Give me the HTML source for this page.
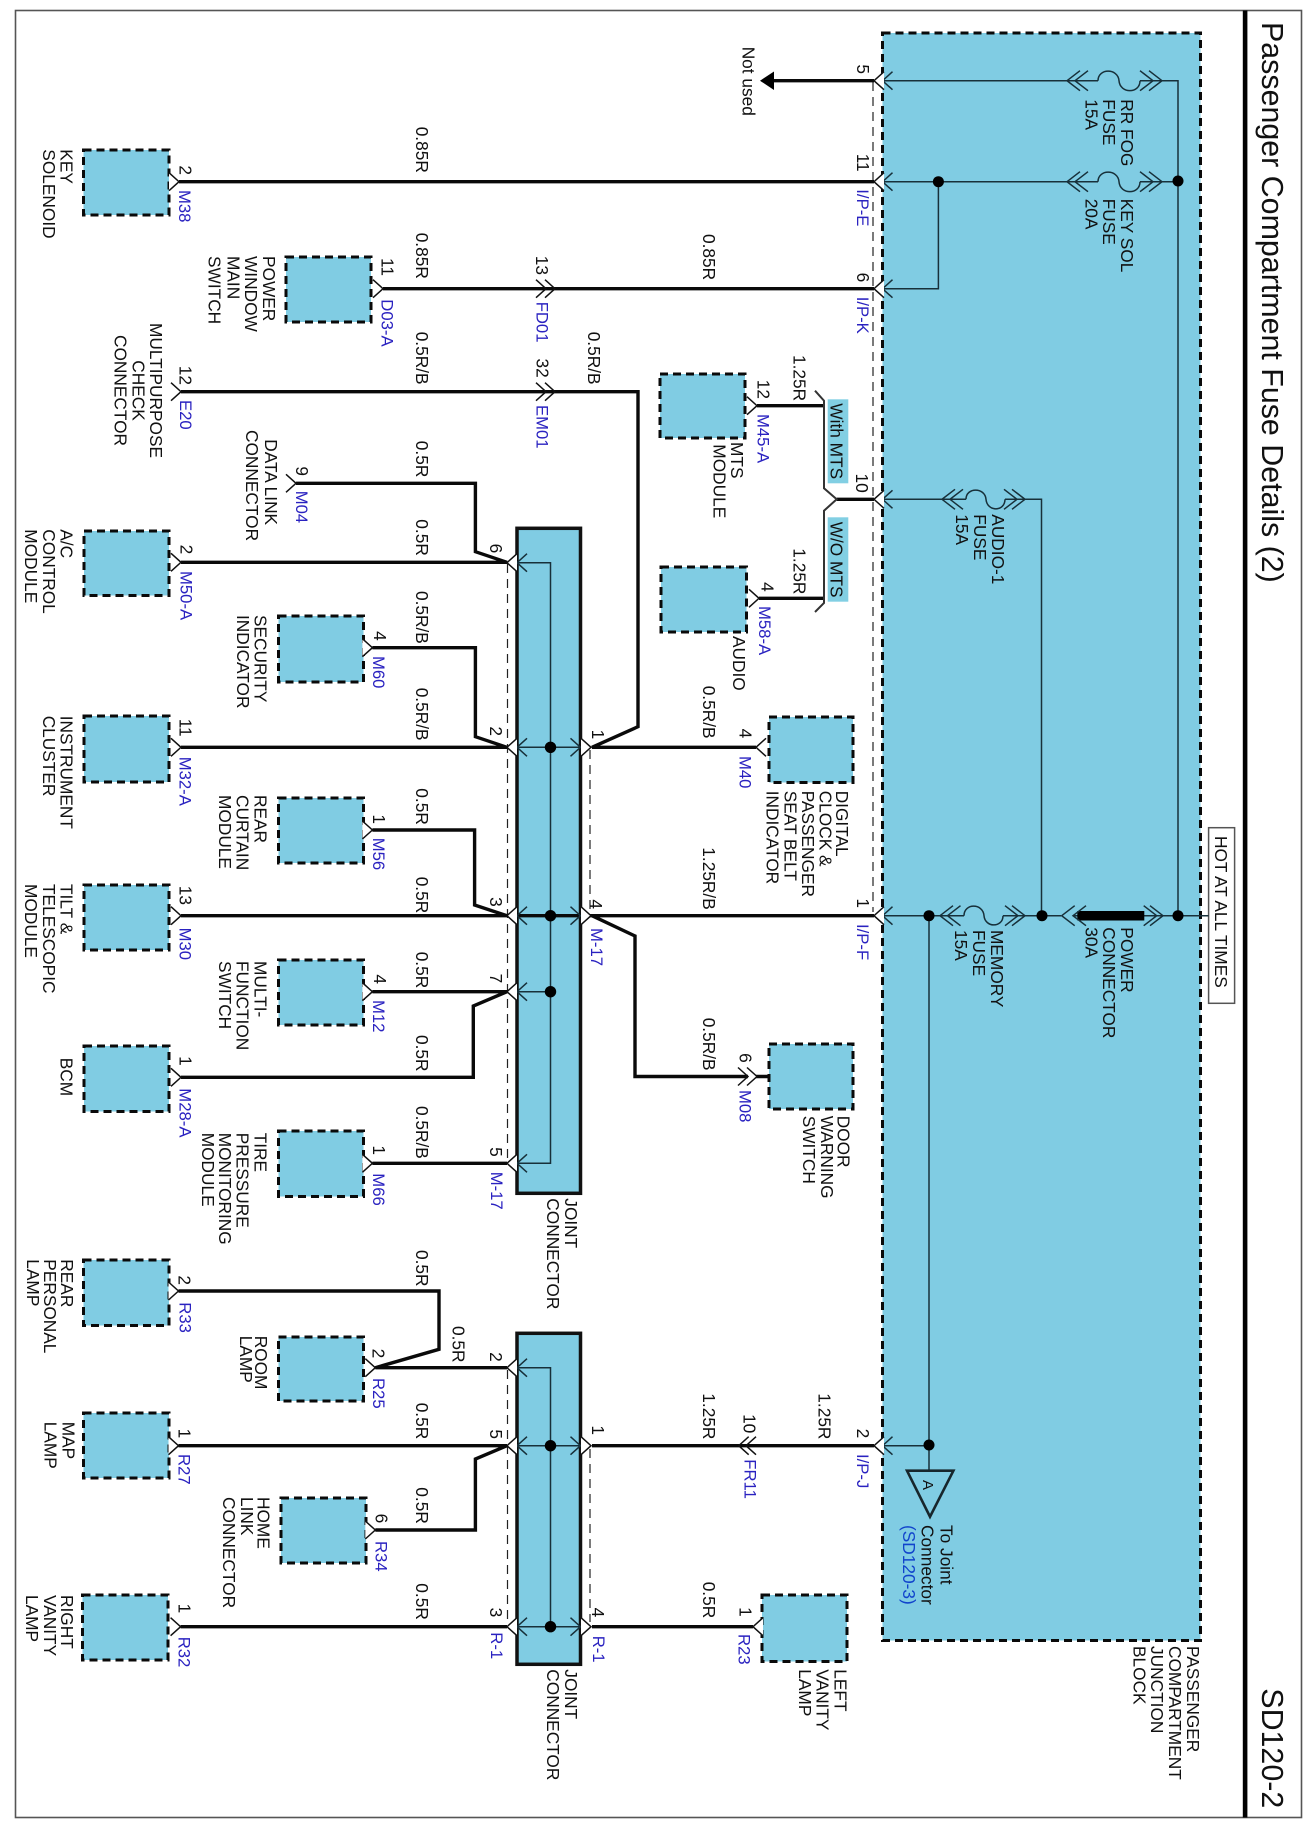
<!DOCTYPE html>
<html><head><meta charset="utf-8"><title>Passenger Compartment Fuse Details (2)</title>
<style>
html,body{margin:0;padding:0;background:#fff}
svg{display:block}
text{font-family:"Liberation Sans",Arial,sans-serif;font-size:17.3px;fill:#111}
.b{font-size:16.7px;fill:#2a22c0}
.n{text-anchor:end}
.m{text-anchor:middle}
.t{font-size:30.4px}
.w{fill:none;stroke:#0a0a0a;stroke-width:3.4;stroke-linejoin:miter}
.s{fill:none;stroke:#17303a;stroke-width:1.5}
.d{fill:none;stroke:#222;stroke-width:1.2;stroke-dasharray:9 6}
.box{fill:#80cce3;stroke:#0a0a0a;stroke-width:3;stroke-dasharray:8 5}
.c{fill:none;stroke:#111;stroke-width:1.5}
.f{fill:#fff;stroke:#111;stroke-width:1.5}
.k{fill:none;stroke:#17303a;stroke-width:1.5}
</style></head><body>
<svg xmlns="http://www.w3.org/2000/svg" width="1308" height="1834" viewBox="0 0 1308 1834">
<defs>
<path id="L" d="M10-9L0 0L10 9"/>
<path id="R" d="M-10-9L0 0L-10 9"/>
<path id="L2" d="M13-10L0 0L13 10"/>
<path id="R2" d="M-13-10L0 0L-13 10"/>
</defs>
<rect width="1308" height="1834" fill="#fff"/>
<rect x="15.5" y="10.5" width="1286" height="1807" fill="none" stroke="#555" stroke-width="1.6"/>
<rect x="1242.8" y="10.5" width="4.6" height="1807" fill="#000"/>

<!-- main block -->
<rect class="box" x="882.5" y="33" width="318" height="1607.5"/>
<rect x="1208.6" y="827.7" width="26" height="175.6" fill="#fff" stroke="#555" stroke-width="1.5"/>

<!-- boxes -->
<rect class="box" x="83.5" y="150" width="85.5" height="65"/>
<rect class="box" x="286" y="257" width="85" height="65"/>
<rect class="box" x="84" y="531" width="85" height="64.5"/>
<rect class="box" x="278.5" y="616" width="85" height="66"/>
<rect class="box" x="84" y="716" width="85" height="66"/>
<rect class="box" x="278.5" y="798" width="85" height="65"/>
<rect class="box" x="84" y="885" width="85" height="65"/>
<rect class="box" x="278.5" y="960" width="85" height="65"/>
<rect class="box" x="84" y="1046" width="85" height="65.5"/>
<rect class="box" x="278.5" y="1131" width="85" height="65.5"/>
<rect class="box" x="83.5" y="1260" width="85.5" height="65.5"/>
<rect class="box" x="278.5" y="1337" width="85" height="64"/>
<rect class="box" x="83.5" y="1413" width="85.5" height="65"/>
<rect class="box" x="281" y="1498" width="85" height="65"/>
<rect class="box" x="82.5" y="1595" width="85.5" height="65"/>
<rect class="box" x="660" y="374" width="85" height="64"/>
<rect class="box" x="661" y="567" width="85.5" height="65"/>
<rect class="box" x="769" y="717" width="84" height="65.5"/>
<rect class="box" x="769" y="1044" width="84" height="65"/>
<rect class="box" x="762" y="1595" width="85" height="66.5"/>

<!-- joint connectors -->
<rect x="517" y="528.3" width="63.5" height="665" fill="#80cce3" stroke="#111" stroke-width="3.5"/>
<rect x="517" y="1333.3" width="63.5" height="331" fill="#80cce3" stroke="#111" stroke-width="3.5"/>

<!-- thin internal lines -->
<path class="s" d="M882 80.7H1098M1140 80.7H1178V915.7M882 181.7H1098M1140 181.7H1178M938.4 181.7V288.7H882M882 499.3H966M1005 499.3H1041.5V915.7M882 915.7H964M1003 915.7H1061M1074 915.7H1080M1144 915.7H1208.6M929 915.7V1470.7M882 1445.7H929"/>
<path class="s" d="M1098 80.7C1098 68 1118 68 1119 80.7C1120 94 1140 94 1140 80.7M1098 181.7C1098 169 1118 169 1119 181.7C1120 195 1140 195 1140 181.7M966 499.3C966 487 985 487 986 499.3C987 512 1005 512 1005 499.3M964 915.7C964 903 983 903 984 915.7C985 928 1003 928 1003 915.7"/>
<path class="s" d="M517 562.7H550.5V1163.3H517M517 747.3H580.5M517 915.7H580.5M517 991.7H550.5M517 1367.7H550.5V1626.7M517 1445.7H580.5M517 1626.7H580.5"/>

<!-- dashed -->
<path class="d" d="M873 82V912M507.5 564V1160M590 750V912M507.5 1370V1622M590 1449V1622"/>

<!-- wires -->
<path class="w" d="M179 181.7H874M383 288.7H874M181 391.7H638V726.7L592 747.3H756M296 483.3H475.4V551.7L507 562.3M181 562.3H507M372.4 647.7H475.4V736.7L507 747.3M181 747.3H507M372.4 830H474.6V905L507 915.7M181 915.7H874M592 915.7L635 936V1076.5H748M756 1076.5H769M372.4 991.7H507M181 1077.3H473.3V1006L507 991.7M372.4 1163.3H507M178.5 1291H439V1349.3L375.3 1367.7M375.3 1367.7H507M178.5 1445.7H507M375.3 1530H475.4V1459L507 1445.7M180.6 1626.7H507M592 1445.7H874M592 1626.7H753M773 80.7H874M757 405.7H824M759 598.3H824M836.7 499.3H874"/>
<path fill="none" stroke="#333" stroke-width="2" d="M815 390.7L824 400.7V488.3L836.7 499.3L824 510.7V603L815 612"/>
<path d="M760 80.7L774 71.5V90z" fill="#000"/>
<rect x="1077.3" y="911" width="67" height="9.5" fill="#000"/>

<!-- With / WO labels -->
<rect x="827.7" y="399.3" width="20.6" height="84" fill="#82cfe3"/>
<rect x="827.7" y="517.3" width="20.6" height="84.4" fill="#82cfe3"/>

<!-- dots -->
<g fill="#000">
<circle cx="1178" cy="181" r="5.5"/><circle cx="938.4" cy="181.7" r="5.5"/><circle cx="1178" cy="915.7" r="5.5"/><circle cx="1042" cy="915.7" r="5.5"/><circle cx="929" cy="915.7" r="5.5"/><circle cx="929" cy="1445" r="5.5"/>
<circle cx="550.5" cy="747.3" r="5.7"/><circle cx="550.5" cy="915.7" r="5.7"/><circle cx="550.5" cy="991.7" r="5.7"/><circle cx="550.5" cy="1445.7" r="5.7"/><circle cx="550.5" cy="1626.7" r="5.7"/>
</g>

<!-- chevrons -->
<g class="k">
<use href="#L2" x="1067" y="80.7"/><use href="#L2" x="1075" y="80.7"/><use href="#R2" x="1153" y="80.7"/><use href="#R2" x="1162" y="80.7"/>
<use href="#L2" x="1067" y="181.7"/><use href="#L2" x="1075" y="181.7"/><use href="#R2" x="1153" y="181.7"/><use href="#R2" x="1162" y="181.7"/>
<use href="#L2" x="942" y="499.3"/><use href="#L2" x="950" y="499.3"/><use href="#R2" x="1017" y="499.3"/><use href="#R2" x="1025" y="499.3"/>
<use href="#L2" x="940" y="915.7"/><use href="#L2" x="947.5" y="915.7"/><use href="#R2" x="1018" y="915.7"/><use href="#R2" x="1025" y="915.7"/>
<use href="#L2" x="1061.7" y="915.7"/><use href="#L2" x="1073" y="915.7"/><use href="#R2" x="1156.7" y="915.7"/><use href="#R2" x="1163" y="915.7"/>
<use href="#L" x="882.5" y="80.7"/><use href="#L" x="882.5" y="181.7"/><use href="#L" x="882.5" y="288.7"/><use href="#L" x="882.5" y="499.3"/><use href="#L" x="882.5" y="915.7"/><use href="#L" x="882.5" y="1445.7"/>
<use href="#L" x="517" y="562.7"/><use href="#L" x="517" y="747.3"/><use href="#L" x="517" y="915.7"/><use href="#L" x="517" y="991.7"/><use href="#L" x="517" y="1163.3"/>
<use href="#L" x="517" y="1367.7"/><use href="#L" x="517" y="1445.7"/><use href="#L" x="517" y="1626.7"/>
<use href="#R" x="580.5" y="747.3"/><use href="#R" x="580.5" y="915.7"/><use href="#R" x="580.5" y="1445.7"/><use href="#R" x="580.5" y="1626.7"/>
</g>
<g class="f">
<use href="#L" x="874" y="80.7"/><use href="#L" x="874" y="181.7"/><use href="#L" x="874" y="288.7"/><use href="#L" x="874" y="499.3"/><use href="#L" x="874" y="915.7"/><use href="#L" x="874" y="1445.7"/>
<use href="#L" x="507" y="562.7"/><use href="#L" x="507" y="747.3"/><use href="#L" x="507" y="915.7"/><use href="#L" x="507" y="991.7"/><use href="#L" x="507" y="1163.3"/>
<use href="#L" x="507" y="1367.7"/><use href="#L" x="507" y="1445.7"/><use href="#L" x="507" y="1626.7"/>
<use href="#R" x="591" y="747.3"/><use href="#R" x="591" y="915.7"/><use href="#R" x="591" y="1445.7"/><use href="#R" x="591" y="1626.7"/>
<use href="#R" x="179" y="181.7"/><use href="#R" x="383" y="288.7"/><use href="#R" x="181" y="562.3"/><use href="#R" x="372.4" y="647.7"/><use href="#R" x="181" y="747.3"/><use href="#R" x="372.4" y="830"/><use href="#R" x="181" y="915.7"/><use href="#R" x="372.4" y="991.7"/><use href="#R" x="181" y="1077.3"/><use href="#R" x="372.4" y="1163.3"/><use href="#R" x="178.5" y="1291"/><use href="#R" x="375.3" y="1367.7"/><use href="#R" x="178.5" y="1445.7"/><use href="#R" x="375.3" y="1530"/><use href="#R" x="180.6" y="1626.7"/><use href="#R" x="757" y="405.7"/><use href="#R" x="759" y="598.3"/>
<use href="#L" x="756" y="747.3"/><use href="#L" x="753" y="1626.7"/>
</g>
<g class="c">
<use href="#R" x="181" y="391.7"/><use href="#R" x="296" y="483.3"/>
<use href="#R" x="546" y="288.7"/><use href="#R" x="555" y="288.7"/><use href="#R" x="546" y="391.7"/><use href="#R" x="555" y="391.7"/>
<use href="#R" x="748" y="1076.5"/><use href="#R" x="757" y="1076.5"/>
<use href="#L" x="738.7" y="1445.7"/><use href="#L" x="746" y="1445.7"/>
</g>
<path d="M907 1470.7H953.4L930 1516.7z" fill="none" stroke="#17262c" stroke-width="2.6"/>

<g transform="rotate(90)">
<text class="t" x="22" y="-1262">Passenger Compartment Fuse Details (2)</text>
<text class="t" x="1688.3" y="-1262">SD120-2</text>
<text x="836" y="-1215">HOT AT ALL TIMES</text>
<text x="46.7" y="-742.5">Not used</text>

<text x="99.3" y="-1121">RR FOG</text><text x="99.3" y="-1103">FUSE</text><text x="99.3" y="-1085.6">15A</text>
<text x="198.7" y="-1121">KEY SOL</text><text x="198.7" y="-1103">FUSE</text><text x="198.7" y="-1085.6">20A</text>
<text x="514.3" y="-991.8">AUDIO-1</text><text x="514.3" y="-974">FUSE</text><text x="514.3" y="-956">15A</text>
<text x="930" y="-991">MEMORY</text><text x="930" y="-973">FUSE</text><text x="930" y="-955">15A</text>
<text x="927.3" y="-1121">POWER</text><text x="927.3" y="-1103">CONNECTOR</text><text x="927.3" y="-1085.6">30A</text>
<text x="1646" y="-1187">PASSENGER</text><text x="1646" y="-1169">COMPARTMENT</text><text x="1646" y="-1151">JUNCTION</text><text x="1646" y="-1133.6">BLOCK</text>
<text x="1525" y="-940.5">To Joint</text><text x="1525" y="-921.7">Connector</text><text x="1525" y="-903" style="fill:#1144cc">(SD120-3)</text>
<text x="1480" y="-923" style="font-size:15px">A</text>

<text x="149.3" y="-60.5">KEY</text><text x="149.3" y="-43">SOLENOID</text>
<text x="256" y="-263">POWER</text><text x="256" y="-245">WINDOW</text><text x="256" y="-227.3">MAIN</text><text x="256" y="-208.5">SWITCH</text>
<text class="m" x="390.5" y="-150">MULTIPURPOSE</text><text class="m" x="390.5" y="-132.6">CHECK</text><text class="m" x="390.5" y="-114.7">CONNECTOR</text>
<text x="439.3" y="-264.8">DATA LINK</text><text x="430" y="-246">CONNECTOR</text>
<text x="529.3" y="-60.5">A/C</text><text x="529.3" y="-43">CONTROL</text><text x="529.3" y="-25">MODULE</text>
<text x="615" y="-254.4">SECURITY</text><text x="615" y="-237">INDICATOR</text>
<text x="715.7" y="-60.5">INSTRUMENT</text><text x="715.7" y="-43">CLUSTER</text>
<text x="795" y="-254.4">REAR</text><text x="795" y="-236.5">CURTAIN</text><text x="795" y="-219">MODULE</text>
<text x="884" y="-60.5">TILT &amp;</text><text x="884" y="-43">TELESCOPIC</text><text x="884" y="-25">MODULE</text>
<text x="961" y="-254.4">MULTI-</text><text x="961" y="-236.5">FUNCTION</text><text x="961" y="-219">SWITCH</text>
<text x="1057.7" y="-60.5">BCM</text>
<text x="1132.7" y="-254.4">TIRE</text><text x="1132.7" y="-236.5">PRESSURE</text><text x="1132.7" y="-219">MONITORING</text><text x="1132.7" y="-202">MODULE</text>
<text x="1198.3" y="-565">JOINT</text><text x="1198.3" y="-547">CONNECTOR</text>
<text x="1259.3" y="-61">REAR</text><text x="1259.3" y="-44">PERSONAL</text><text x="1259.3" y="-27">LAMP</text>
<text x="1335.7" y="-255">ROOM</text><text x="1335.7" y="-239.8">LAMP</text>
<text x="1421.7" y="-62.5">MAP</text><text x="1421.7" y="-44.6">LAMP</text>
<text x="1497" y="-257.7">HOME</text><text x="1497" y="-241">LINK</text><text x="1497" y="-223">CONNECTOR</text>
<text x="1595" y="-61">RIGHT</text><text x="1595" y="-43.8">VANITY</text><text x="1595" y="-26">LAMP</text>
<text x="1669.3" y="-565">JOINT</text><text x="1669.3" y="-547">CONNECTOR</text>
<text x="1669.3" y="-834.6">LEFT</text><text x="1669.3" y="-816.6">VANITY</text><text x="1669.3" y="-799">LAMP</text>
<text x="442" y="-731">MTS</text><text x="444.3" y="-713.6">MODULE</text>
<text x="636" y="-733">AUDIO</text>
<text x="790.7" y="-836">DIGITAL</text><text x="790.7" y="-819.5">CLOCK &amp;</text><text x="790.7" y="-802">PASSENGER</text><text x="790.7" y="-784.5">SEAT BELT</text><text x="790.7" y="-766.6">INDICATOR</text>
<text x="1115.7" y="-837.5">DOOR</text><text x="1115.7" y="-820.8">WARNING</text><text x="1115.7" y="-803">SWITCH</text>
<text x="403.3" y="-830.7">With MTS</text><text x="521.7" y="-830.7">W/O MTS</text>

<!-- wire sizes -->
<text x="126.7" y="-416">0.85R</text><text x="232.7" y="-416">0.85R</text><text x="331.7" y="-416">0.5R/B</text><text x="331.7" y="-588">0.5R/B</text>
<text x="440.8" y="-416">0.5R</text><text x="519.3" y="-416">0.5R</text><text x="591" y="-416">0.5R/B</text><text x="687.7" y="-416">0.5R/B</text>
<text x="788.3" y="-416">0.5R</text><text x="876.7" y="-416">0.5R</text><text x="951.7" y="-416">0.5R</text><text x="1035" y="-416">0.5R</text>
<text x="1106" y="-416">0.5R/B</text><text x="1250" y="-416">0.5R</text><text x="1326" y="-452.5">0.5R</text><text x="1402.7" y="-416">0.5R</text>
<text x="1487.3" y="-416">0.5R</text><text x="1583.3" y="-416">0.5R</text>
<text x="234" y="-703">0.85R</text><text x="355" y="-793.7">1.25R</text><text x="548.3" y="-793.7">1.25R</text><text x="685.7" y="-703">0.5R/B</text>
<text x="847.3" y="-703">1.25R/B</text><text x="1017.7" y="-703">0.5R/B</text><text x="1393.3" y="-703">1.25R</text><text x="1393.3" y="-818.7">1.25R</text><text x="1581.7" y="-703">0.5R</text>

<!-- pin numbers -->
<g class="n">
<text x="175" y="-179.5">2</text><text x="276" y="-381.6">11</text><text x="275" y="-536">13</text><text x="385" y="-179.3">12</text><text x="377.7" y="-536.7">32</text>
<text x="74" y="-857">5</text><text x="171.7" y="-857">11</text><text x="282.3" y="-857">6</text><text x="399" y="-757.4">12</text><text x="492.7" y="-856">10</text>
<text x="591.7" y="-761.6">4</text><text x="738.3" y="-739.5">4</text><text x="908" y="-857">1</text>
<text x="553.3" y="-490">6</text><text x="736" y="-490">2</text><text x="739.3" y="-592">1</text><text x="906.7" y="-490">3</text><text x="909" y="-590">4</text>
<text x="476" y="-296">9</text><text x="554.3" y="-180.6">2</text><text x="640.7" y="-374">4</text><text x="736.7" y="-179.3">11</text><text x="824" y="-373">1</text><text x="905" y="-179.3">13</text>
<text x="984" y="-374">4</text><text x="983.3" y="-490">7</text><text x="1065.7" y="-179.3">1</text><text x="1155" y="-373">1</text><text x="1156.7" y="-490">5</text>
<text x="1285" y="-178.5">2</text><text x="1358.3" y="-372.4">2</text><text x="1361.7" y="-490">2</text><text x="1439" y="-490">5</text><text x="1435" y="-592">1</text><text x="1438.3" y="-178.5">1</text>
<text x="1523.3" y="-375.3">6</text><text x="1613.3" y="-178.5">1</text><text x="1617.3" y="-490">3</text><text x="1617.3" y="-592">4</text>
<text x="1438.3" y="-857">2</text><text x="1433.3" y="-743.7">10</text><text x="1616.7" y="-739.5">1</text><text x="1062.7" y="-739.5">6</text>
</g>

<!-- references -->
<g>
<text class="b" x="190" y="-179">M38</text><text class="b" x="299.3" y="-381.6">D03-A</text><text class="b" x="301.7" y="-536.7">FD01</text><text class="b" x="400" y="-180">E20</text><text class="b" x="405" y="-536.7">EM01</text>
<text class="b" x="189.3" y="-857">I/P-E</text><text class="b" x="296.7" y="-857">I/P-K</text><text class="b" x="414" y="-757.4">M45-A</text><text class="b" x="606" y="-759">M58-A</text><text class="b" x="756" y="-739.5">M40</text>
<text class="b" x="924" y="-857">I/P-F</text><text class="b" x="1090" y="-739.5">M08</text><text class="b" x="1459.3" y="-744.5">FR11</text><text class="b" x="1454" y="-857">I/P-J</text><text class="b" x="1634" y="-738.7">R23</text>
<text class="b" x="490.7" y="-296">M04</text><text class="b" x="571" y="-180.6">M50-A</text><text class="b" x="656" y="-373">M60</text><text class="b" x="756.7" y="-179.3">M32-A</text><text class="b" x="837.7" y="-373">M56</text>
<text class="b" x="927.6" y="-179.3">M30</text><text class="b" x="928" y="-591">M-17</text><text class="b" x="1000" y="-373">M12</text><text class="b" x="1088.3" y="-179.3">M28-A</text><text class="b" x="1173.3" y="-373">M66</text><text class="b" x="1171.7" y="-490.8">M-17</text>
<text class="b" x="1302.3" y="-179.3">R33</text><text class="b" x="1378" y="-373">R25</text><text class="b" x="1454" y="-178.5">R27</text><text class="b" x="1541" y="-375.3">R34</text><text class="b" x="1636.7" y="-178.5">R32</text>
<text class="b" x="1632.3" y="-490.8">R-1</text><text class="b" x="1635.7" y="-593">R-1</text>
</g>
</g>
</svg>
</body></html>
